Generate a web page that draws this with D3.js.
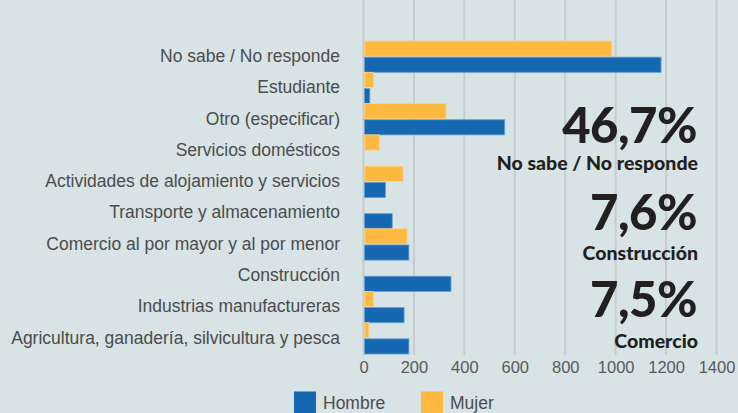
<!DOCTYPE html>
<html><head><meta charset="utf-8">
<script src="https://cdn.jsdelivr.net/npm/d3@7"></script>
<style>
html,body{margin:0;padding:0;background:#d7e3e5;}
svg{display:block;}
</style></head>
<body>
<svg id="chart" width="738" height="413"></svg>
<script>
const categories = [
  "No sabe / No responde",
  "Estudiante",
  "Otro (especificar)",
  "Servicios domésticos",
  "Actividades de alojamiento y servicios",
  "Transporte y almacenamiento",
  "Comercio al por mayor y al por menor",
  "Construcción",
  "Industrias manufactureras",
  "Agricultura, ganadería, silvicultura y pesca"
];
const series = ["Mujer", "Hombre"];
const mujer  = [985, 40, 327, 64, 157, 0, 173, 0, 40, 21];
const hombre = [1180, 25, 560, 0, 87, 114, 180, 347, 161, 180];
const xTicks = [0, 200, 400, 600, 800, 1000, 1200, 1400];
const legendItems = ["Hombre", "Mujer"];
const callouts = [
  {big: "46,7%", small: "No sabe / No responde"},
  {big: "7,6%", small: "Construcción"},
  {big: "7,5%", small: "Comercio"}
];

const colors = {Hombre: "#1668b2", Mujer: "#fdb940"};
const strokes = {Hombre: "#6a9fd0", Mujer: "#fdd488"};

const svg = d3.select("#chart");
const x = d3.scaleLinear().domain([0, 1400]).range([363.5, 716.5]);
const y = d3.scaleBand().domain(categories).range([41, 354]).paddingInner(0);
const yi = d3.scaleBand().domain(series).range([0, y.bandwidth()]).paddingInner(0.06);

// gridlines
svg.append("g").selectAll("line").data(xTicks).join("line")
  .attr("x1", d => x(d)).attr("x2", d => x(d))
  .attr("y1", 0).attr("y2", 355)
  .attr("stroke", "#c6cccd").attr("stroke-width", 2);

// x axis labels
const xAxis = d3.axisBottom(x).tickValues(xTicks).tickFormat(d3.format("d")).tickSize(0).tickPadding(0);
const gx = svg.append("g").attr("transform", "translate(0,361)").call(xAxis);
gx.select(".domain").remove();
gx.selectAll("text").attr("font-family", "Liberation Sans, Arial, sans-serif")
  .attr("font-size", 16.5).attr("fill", "#5a5a5a");

// y axis labels
const yAxis = d3.axisLeft(y).tickSize(0).tickPadding(0);
const gy = svg.append("g").attr("transform", "translate(340,0)").call(yAxis);
gy.select(".domain").remove();
gy.selectAll("text").attr("font-family", "Liberation Sans, Arial, sans-serif")
  .attr("font-size", 17.5).attr("fill", "#4c4c4c").attr("dy", "0.3em");

// bars
const data = categories.map((c, i) => ({cat: c, Mujer: mujer[i], Hombre: hombre[i]}));
const groups = svg.append("g").selectAll("g").data(data).join("g")
  .attr("transform", d => `translate(0,${y(d.cat)})`);
groups.selectAll("rect").data(d => series.map(s => ({s, v: d[s]})).filter(e => e.v > 0)).join("rect")
  .attr("x", x(0) + 1)
  .attr("y", d => yi(d.s))
  .attr("width", d => Math.max(0, x(d.v) - x(0) - 1))
  .attr("height", yi.bandwidth())
  .attr("fill", d => colors[d.s])
  .attr("stroke", d => strokes[d.s]).attr("stroke-width", 0.8);

// callouts
const bigY = [143, 230, 317];
const smallY = [170, 260, 348];
const cg = svg.append("g").attr("font-family", "Lato, sans-serif").attr("fill", "#231f20").attr("text-anchor", "end");
callouts.forEach((c, i) => {
  cg.append("text").attr("x", 697).attr("y", bigY[i]).attr("font-size", 49).attr("font-weight", 900)
    .attr("letter-spacing", "-0.5").text(c.big);
  cg.append("text").attr("x", 698).attr("y", smallY[i]).attr("font-size", 19.5).attr("font-weight", 900)
    .text(c.small);
});

// legend
const lg = svg.append("g");
const lx = [294, 421];
legendItems.forEach((s, i) => {
  lg.append("rect").attr("x", lx[i]).attr("y", 391.5).attr("width", 22).attr("height", 22).attr("fill", colors[s]);
  lg.append("text").attr("x", lx[i] + 29).attr("y", 409).attr("font-family", "Liberation Sans, Arial, sans-serif")
    .attr("font-size", 17.5).attr("fill", "#4c4c4c").text(s);
});
</script>
</body></html>
